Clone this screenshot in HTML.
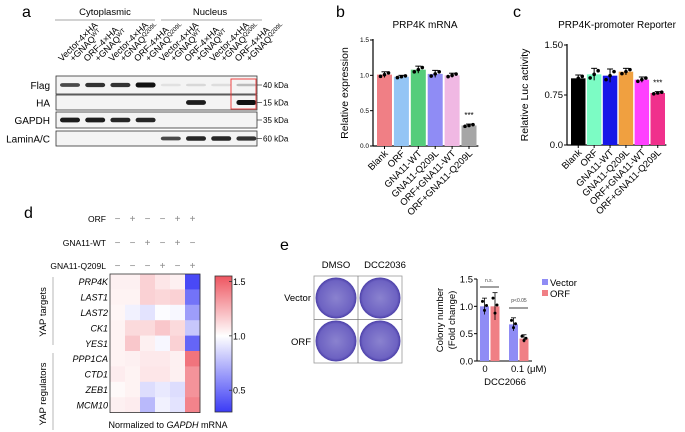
<!DOCTYPE html>
<html><head><meta charset="utf-8"><style>
body{margin:0;background:#fff}
svg{display:block;font-family:"Liberation Sans",Arial,sans-serif}
</style></head><body>
<svg id="fig" width="685" height="432" viewBox="0 0 685 432" xmlns="http://www.w3.org/2000/svg">
<defs>
<radialGradient id="plate" cx="50%" cy="50%" r="50%">
<stop offset="0%" stop-color="#8a82cf"/><stop offset="85%" stop-color="#6d62c2"/><stop offset="100%" stop-color="#4b3fa8"/>
</radialGradient>
<linearGradient id="cbar" x1="0" y1="1" x2="0" y2="0">
<stop offset="0%" stop-color="#3b3bf5"/><stop offset="56%" stop-color="#ffffff"/><stop offset="100%" stop-color="#ee5560"/>
</linearGradient>
</defs>
<text x="22" y="17" font-size="16">a</text>
<text x="336" y="17" font-size="16">b</text>
<text x="513" y="17" font-size="16">c</text>
<text x="24" y="218" font-size="16">d</text>
<text x="280" y="250" font-size="16">e</text>

<g id="blot" font-size="9">
<text x="105" y="15" text-anchor="middle" font-size="9.5">Cytoplasmic</text>
<text x="210" y="15" text-anchor="middle" font-size="9.5">Nucleus</text>
<line x1="55" y1="20" x2="155" y2="20" stroke="#888" stroke-width="0.7"/>
<line x1="161" y1="20" x2="262" y2="20" stroke="#888" stroke-width="0.7"/>
</g>

<g id="panelB"></g>
<g id="panelC"></g>
<g id="panelD"></g>
<g id="panelE"></g>
</svg>
<script>
const NS="http://www.w3.org/2000/svg";
function mk(parent,tag,attrs,txt){const e=document.createElementNS(NS,tag);for(const k in attrs)e.setAttribute(k,attrs[k]);if(txt!==undefined)e.textContent=txt;parent.appendChild(e);return e;}

const blotLanes=["Vector-4×HA|+GNAQWT","ORF-4×HA|+GNAQWT","Vector-4×HA|+GNAQQ209L","ORF-4×HA|+GNAQQ209L","Vector-4×HA|+GNAQWT","ORF-4×HA|+GNAQWT","Vector-4×HA|+GNAQQ209L","ORF-4×HA|+GNAQQ209L"];
const blotRows=["Flag","HA","GAPDH","LaminA/C"];
const blotMarkers=["40 kDa","15 kDa","35 kDa","60 kDa"];
const flagInt=[0.75,0.85,0.85,1,0.08,0.12,0.1,0.25];
const haInt=[0,0,0,0,0,0.95,0,1];
const gapdhInt=[0.95,0.95,0.9,0.9,0,0,0,0];
const laminInt=[0,0,0,0,0.75,0.9,0.9,0.85];
const rowInts=[flagInt,haInt,gapdhInt,laminInt];
(function(){
  const g=document.getElementById('blot');
  const rowY=[76,95,112,131],rowH=[18,15,16,15];
  const laneX=i=>70+i*25.2;
  blotLanes.forEach((l,i)=>{
    const parts=l.split('|');
    const t=mk(g,'text',{transform:`translate(${laneX(i)-8},62) rotate(-45)`,'font-size':'9'});
    
    
    mk(t,'tspan',{x:0,y:0},parts[0]);
    const sup=parts[1].replace('+GNAQ','');
    mk(t,'tspan',{x:8,y:8},'+GNAQ');
    mk(t,'tspan',{dy:-3,'font-size':'6'},sup);
  });
  blotRows.forEach((r,ri)=>{
    const y=rowY[ri],h=rowH[ri];
    const box=mk(g,'rect',{x:56,y:y,width:201,height:h,fill:'#f4f4f4',stroke:'#333','stroke-width':0.8});
    
    
    const lab=mk(g,'text',{x:50,y:y+h/2+4,'text-anchor':'end','font-size':'10'},r);
    
    
    mk(g,'line',{x1:257,y1:y+h/2,x2:262,y2:y+h/2,stroke:'#333','stroke-width':0.7});
    const mt=mk(g,'text',{x:263,y:y+h/2+3,'font-size':'8'},blotMarkers[ri]);
    
    
    rowInts[ri].forEach((v,i)=>{
      if(v<=0)return;
      const b=mk(g,'rect',{x:laneX(i)-10,y:y+h/2-2.5*Math.max(v,0.5),width:20,height:5*Math.max(v,0.5),rx:2.5,fill:'#111','fill-opacity':v});
      
      
    });
  });
  const rb=mk(g,'rect',{x:231,y:79,width:25,height:30,fill:'none',stroke:'#e33','stroke-width':0.9});
  
  
})();

const bCats=["Blank","ORF","GNA11-WT","GNA11-Q209L","ORF+GNA11-WT","ORF+GNA11-Q209L"];
const bVals=[1.01,0.98,1.08,1.02,1.0,0.29];
const bErr=[0.04,0.02,0.05,0.05,0.03,0.02];
const bTicks=[0,0.5,1.0,1.5];
const bTickLabels=["0.0","0.5","1.0","1.5"];
const bColors=["#f07f85","#94c5f5","#55cd7b","#8f8cf5","#f0b8e3","#a6a6a6"];
const cCats=["Blank","ORF","GNA11-WT","GNA11-Q209L","ORF+GNA11-WT","ORF+GNA11-Q209L"];
const cVals=[1.0,1.06,1.04,1.1,0.98,0.78];
const cErr=[0.05,0.09,0.1,0.05,0.04,0.02];
const cTicks=[0,0.75,1.5];
const cTickLabels=["0.0","0.75","1.50"];
const cColors=["#000000","#7cfcc4","#1717e8","#f0a040","#ff40ff","#f0308c"];

function barChart(g,o){
  const y=v=>o.y0-(v-0)/(o.ymax)*(o.y0-o.y1);
  const x=i=>o.x0+4+i*o.step;
  mk(g,'line',{x1:o.x0,y1:o.y1-1,x2:o.x0,y2:o.y0,stroke:'#000','stroke-width':1.2});
  mk(g,'line',{x1:o.x0,y1:o.y0,x2:o.x0+4+o.cats.length*o.step,y2:o.y0,stroke:'#000','stroke-width':1.2});
  o.ticks.forEach((t,i)=>{
    mk(g,'line',{x1:o.x0-3,y1:y(t),x2:o.x0,y2:y(t),stroke:'#000','stroke-width':1});
    const tl=mk(g,'text',{x:o.x0-4,y:y(t)+o.tfs/3,'text-anchor':'end','font-size':o.tfs},o.tl[i]);
    
    
  });
  o.cats.forEach((c,i)=>{
    const v=o.vals[i],bx=x(i),w=o.bw;
    const r=mk(g,'rect',{x:bx,y:y(v),width:w,height:o.y0-y(v),fill:o.colors[i]});
    
    
    const cx=bx+w/2;
    mk(g,'line',{x1:cx,y1:y(v-o.err[i]),x2:cx,y2:y(v+o.err[i]),stroke:'#000','stroke-width':1});
    mk(g,'line',{x1:cx-3,y1:y(v+o.err[i]),x2:cx+3,y2:y(v+o.err[i]),stroke:'#000','stroke-width':1});
    [-4,0,4].forEach((d,k)=>{mk(g,'circle',{cx:cx+d,cy:y(v+(k-1)*o.err[i]*0.6),r:1.8,fill:'#000'});});
    mk(g,'line',{x1:cx,y1:o.y0,x2:cx,y2:o.y0+3,stroke:'#000','stroke-width':1});
    const lt=mk(g,'text',{transform:`translate(${cx+4},${o.y0+8}) rotate(-45)`,'text-anchor':'end','font-size':'9.5'},c);
    
    
  });
  const st=mk(g,'text',{x:x(5)+o.bw/2,y:y(o.vals[5]+o.err[5])-6,'text-anchor':'middle','font-size':'8'},'***');
  
  
  const ti=mk(g,'text',{x:o.tx,y:28,'text-anchor':'middle','font-size':'10'},o.title);
  
  
  const yl=mk(g,'text',{transform:`translate(${o.ylx},${(o.y0+o.y1)/2}) rotate(-90)`,'text-anchor':'middle','font-size':'10.5'},o.ylabel);
  
  
}
barChart(document.getElementById('panelB'),{cats:bCats,vals:bVals,err:bErr,ticks:bTicks,tl:bTickLabels,colors:bColors,x0:373,y0:146,y1:40,ymax:1.5,step:16.9,bw:15,tfs:6.5,title:'PRP4K mRNA',tx:425,ylx:348,ylabel:'Relative expression'});
barChart(document.getElementById('panelC'),{cats:cCats,vals:cVals,err:cErr,ticks:cTicks,tl:cTickLabels,colors:cColors,x0:567,y0:145,y1:45,ymax:1.5,step:15.9,bw:14.5,tfs:9.5,title:'PRP4K-promoter Reporter',tx:617,ylx:528,ylabel:'Relative Luc activity'});

const hmRows=["PRP4K","LAST1","LAST2","CK1","YES1","PPP1CA","CTD1","ZEB1","MCM10"];
const hmVals=[
 [1.05,1.05,1.15,1.08,1.05,0.35],
 [1.04,1.04,1.15,1.13,1.15,0.5],
 [1.03,0.95,0.9,0.99,0.97,0.65],
 [1.04,1.12,1.12,1.18,1.12,0.8],
 [1.04,1.18,1.05,0.97,1.15,0.45],
 [1.04,1.05,1.07,1.07,1.05,1.45],
 [1.06,1.04,1.08,1.08,1.05,1.35],
 [1.02,1.04,0.88,0.92,0.88,1.35],
 [1.05,1.06,0.75,0.95,0.9,1.4]];
const condNames=["ORF","GNA11-WT","GNA11-Q209L"];
const condSigns=[["−","+","−","−","+","+"],["−","−","+","−","+","−"],["−","−","−","+","−","+"]];
const cbTicks=[0.5,1.0,1.5];
const cbTickLabels=["0.5","1.0","1.5"];
(function(){
  const g=document.getElementById('panelD');
  const hx=110,hy=274,cw=15,rh=15.4,vmin=0.3,vmax=1.55,mid=1.0;
  function col(v){
    const blue=[59,59,245],red=[238,85,96],w=[255,255,255];
    let t,c;
    if(v<mid){t=Math.min(1,(mid-v)/(mid-vmin));c=blue;}else{t=Math.min(1,(v-mid)/(vmax-mid));c=red;}
    return `rgb(${w.map((x,i)=>Math.round(x+(c[i]-x)*t)).join(',')})`;
  }
  const condY=[219,243,266];
  condNames.forEach((n,i)=>{
    const t=mk(g,'text',{x:hx-4,y:condY[i]+3,'text-anchor':'end','font-size':'8.5'},n);
    
    
    condSigns[i].forEach((s,j)=>{
      const st=mk(g,'text',{x:hx+cw*j+cw/2,y:condY[i]+3,'text-anchor':'middle','font-size':'10',fill:'#888'},s);
      
      
    });
  });
  hmRows.forEach((r,i)=>{
    const t=mk(g,'text',{x:hx-2,y:hy+rh*i+rh/2+3.5,'text-anchor':'end','font-size':'9','font-style':'italic'},r);
    
    
    hmVals[i].forEach((v,j)=>{
      const c=mk(g,'rect',{x:hx+cw*j,y:hy+rh*i,width:cw+0.3,height:rh+0.3,fill:col(v)});
      
      
    });
  });
  mk(g,'rect',{x:hx,y:hy,width:cw*6,height:rh*9,fill:'none',stroke:'#333','stroke-width':0.8});
  mk(g,'line',{x1:53,y1:277,x2:53,y2:345,stroke:'#999','stroke-width':0.7});
  mk(g,'line',{x1:53,y1:353,x2:53,y2:430,stroke:'#999','stroke-width':0.7});
  const g1=mk(g,'text',{transform:'translate(46,312) rotate(-90)','text-anchor':'middle','font-size':'9.5'},'YAP targets');
  
  
  const g2=mk(g,'text',{transform:'translate(46,394) rotate(-90)','text-anchor':'middle','font-size':'9.5'},'YAP regulators');
  
  
  const cbx=215,cby0=412,cby1=276;
  const cb=mk(g,'rect',{x:cbx,y:cby1,width:17,height:cby0-cby1,fill:'url(#cbar)',stroke:'#333','stroke-width':0.8});
  
  
  const cy=v=>cby0-(v-vmin)/(vmax-vmin)*(cby0-cby1);
  cbTicks.forEach((t,i)=>{
    mk(g,'line',{x1:cbx+14,y1:cy(t),x2:cbx+17,y2:cy(t),stroke:'#333','stroke-width':0.8});
    const tl=mk(g,'text',{x:cbx+18,y:cy(t)+3.5,'font-size':'9'},cbTickLabels[i]);
    
    
  });
  const nt=mk(g,'text',{x:168,y:428,'text-anchor':'middle','font-size':'9'});
  
  
  mk(nt,'tspan',{},'Normalized to ');mk(nt,'tspan',{'font-style':'italic'},'GAPDH');mk(nt,'tspan',{},' mRNA');
})();

const eGroups=["0","0.1"];
const eVector=[1.0,0.67];
const eORF=[1.0,0.41];
const eVecErr=[0.15,0.12];
const eOrfErr=[0.25,0.07];
const eTicks=[0,0.5,1.0,1.5];
const eTickLabels=["0.0","0.5","1.0","1.5"];
(function(){
  const g=document.getElementById('panelE');
  mk(g,'rect',{x:314,y:276,width:88,height:87,fill:'#fff',stroke:'#999','stroke-width':0.8});
  mk(g,'line',{x1:358,y1:276,x2:358,y2:363,stroke:'#777','stroke-width':0.7});
  mk(g,'line',{x1:314,y1:319.5,x2:402,y2:319.5,stroke:'#777','stroke-width':0.7});
  [[336,298],[380,298],[336,341],[380,341]].forEach(p=>{
    const c=mk(g,'circle',{cx:p[0],cy:p[1],r:20.5,fill:'url(#plate)'});
    
    
  });
  [["DMSO",336,268],["DCC2036",385,268]].forEach(a=>{const t=mk(g,'text',{x:a[1],y:a[2],'text-anchor':'middle','font-size':'9.5'},a[0]);});
  [["Vector",301],["ORF",345]].forEach(a=>{const t=mk(g,'text',{x:311,y:a[1],'text-anchor':'end','font-size':'9.5'},a[0]);});
  const x0=477,y0=361,y1=279,ymax=1.5;
  const y=v=>y0-v/ymax*(y0-y1);
  const gx=i=>480+i*29;
  mk(g,'line',{x1:x0,y1:y1,x2:x0,y2:y0,stroke:'#000','stroke-width':1});
  mk(g,'line',{x1:x0,y1:y0,x2:532,y2:y0,stroke:'#000','stroke-width':1});
  eTicks.forEach((t,i)=>{
    mk(g,'line',{x1:x0-3,y1:y(t),x2:x0,y2:y(t),stroke:'#000','stroke-width':1});
    const tl=mk(g,'text',{x:x0-4,y:y(t)+3.5,'text-anchor':'end','font-size':'9.5'},eTickLabels[i]);
    
    
  });
  function bar(xx,v,e,color,name){
    const r=mk(g,'rect',{x:xx,y:y(v),width:9,height:y0-y(v),fill:color});
    
    
    const cx=xx+4.5;
    mk(g,'line',{x1:cx,y1:y(v-e),x2:cx,y2:y(v+e),stroke:'#000','stroke-width':0.8});
    mk(g,'line',{x1:cx-2.5,y1:y(v+e),x2:cx+2.5,y2:y(v+e),stroke:'#000','stroke-width':0.8});
    [[-2,0.6],[0,-0.5],[2,0.1]].forEach(d=>mk(g,'circle',{cx:cx+d[0],cy:y(v+d[1]*e),r:1.5,fill:'#000'}));
  }
  eGroups.forEach((gr,i)=>{
    bar(gx(i),eVector[i],eVecErr[i],'#8f8cf5','bar-vector-'+gr);
    bar(gx(i)+10.5,eORF[i],eOrfErr[i],'#f07f85','bar-orf-'+gr);
  });
  const t0=mk(g,'text',{x:485,y:372,'text-anchor':'middle','font-size':'9.5'},'0');
  
  const t1=mk(g,'text',{x:511,y:372,'font-size':'9.5'},'0.1 (μM)');
  
  const xt=mk(g,'text',{x:505,y:385,'text-anchor':'middle','font-size':'9.5'},'DCC2066');
  
  const yl1=mk(g,'text',{transform:'translate(443,320) rotate(-90)','text-anchor':'middle','font-size':'9.5'},'Colony number');
  
  const yl2=mk(g,'text',{transform:'translate(455,320) rotate(-90)','text-anchor':'middle','font-size':'9.5'},'(Fold change)');
  
  mk(g,'line',{x1:480,y1:287,x2:499,y2:287,stroke:'#000','stroke-width':0.8});
  mk(g,'line',{x1:509,y1:308,x2:528,y2:308,stroke:'#000','stroke-width':0.8});
  const s1=mk(g,'text',{x:489,y:282,'text-anchor':'middle','font-size':'5','fill':'#444'},'n.s.');
  
  const s2=mk(g,'text',{x:519,y:302,'text-anchor':'middle','font-size':'5','fill':'#444'},'p<0.05');
  
  [["Vector",'#8f8cf5',283],["ORF",'#f07f85',294]].forEach(l=>{
    const lg=mk(g,'g',{});
    
    
    mk(lg,'rect',{x:542,y:l[2]-4,width:6,height:6,fill:l[1]});
    mk(lg,'text',{x:550,y:l[2]+3,'font-size':'9.5'},l[0]);
  });
})();
</script>
</body></html>
